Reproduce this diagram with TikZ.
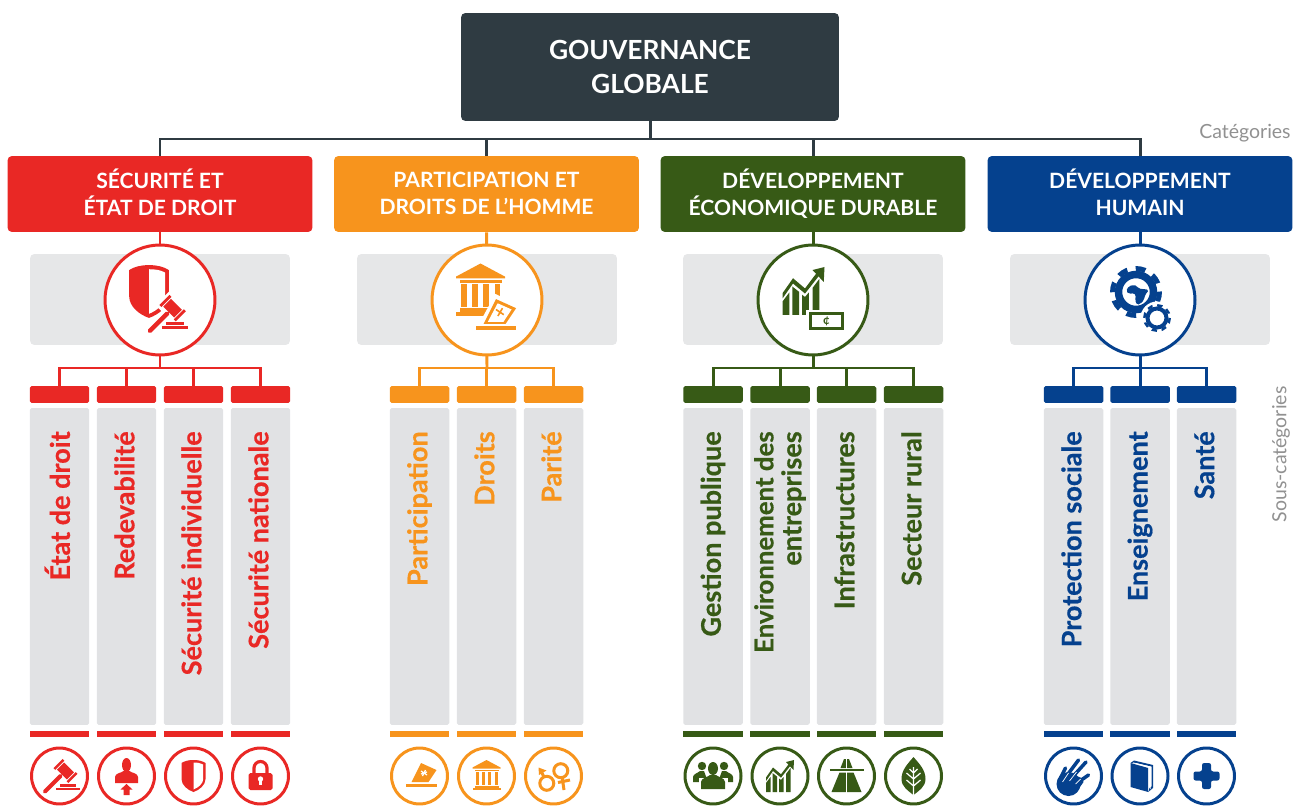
\documentclass[tikz,border=0pt]{standalone}
\usepackage{fontspec}
\setmainfont{Lato}
\newfontfamily\heavyfont[BoldFeatures={FakeBold=0.5}]{Lato}
\usetikzlibrary{positioning, calc}
\definecolor{titledark}{RGB}{47,59,66}
\definecolor{securityred}{RGB}{233,40,37}
\definecolor{rightsorange}{RGB}{247,148,29}
\definecolor{economygreen}{RGB}{55,90,22}
\definecolor{humanblue}{RGB}{5,65,142}
\definecolor{panelgrey}{RGB}{230,231,232}
\definecolor{columngrey}{RGB}{225,226,228}
\definecolor{notegrey}{RGB}{145,145,145}

\newcommand{\catstrut}{\rule[-2.4pt]{0pt}{12.6pt}}
\newcommand{\labstrut}{\rule[-2.5pt]{0pt}{13.3pt}}

\tikzset{
  titlebox/.style={fill=titledark, rounded corners=2.5pt, minimum width=7.56cm, minimum height=2.16cm, inner sep=0pt, align=center, text=white, font=\fontsize{15}{19.3}\selectfont\bfseries},
  catbox/.style={rounded corners=2.5pt, minimum width=6.1cm, minimum height=1.52cm, inner sep=0pt, align=center, text=white, font=\fontsize{12}{15.3}\selectfont\bfseries},
  panelbox/.style={fill=panelgrey, rounded corners=2.5pt, minimum width=5.2cm, minimum height=1.82cm, inner sep=0pt},
  hubring/.style={circle, fill=white, line width=1.7pt, minimum size=2.2cm, inner sep=0pt},
  headbox/.style={rounded corners=1pt, minimum width=1.19cm, minimum height=.34cm, inner sep=0pt},
  colbox/.style={fill=columngrey, rounded corners=1pt, minimum width=1.19cm, minimum height=6.34cm, inner sep=0pt},
  barbox/.style={minimum width=1.19cm, minimum height=.12cm, inner sep=0pt},
  iconring/.style={circle, fill=white, line width=1.7pt, minimum size=1.12cm, inner sep=0pt},
  sublabel/.style={rotate=90, anchor=east, inner sep=0pt, align=right, font=\fontsize{15.4}{15.9}\selectfont\heavyfont\bfseries},
  notelabel/.style={inner sep=0pt, text=notegrey, font=\fontsize{11.1}{13}\selectfont},
  treeline/.style={line width=1.7pt},
  % icons, drawn in the current colour around (0,0)
  pics/gavel/.style={code={
    \begin{scope}[shift={(6,-5)},rotate=-45]
      \fill[white] (-13,-9) rectangle (13,9);
      \fill[white] (-4,5) rectangle (4,32);
      \fill (-7,-5) rectangle (7,5);
      \fill (-10.5,-6.5) rectangle (-8,6.5);
      \fill (8,-6.5) rectangle (10.5,6.5);
      \fill[rounded corners=1pt] (-2,5) rectangle (2,31);
    \end{scope}
    \fill (-4,11.5) rectangle (20,14);
    \fill (0,8) rectangle (16,10.5);
  }},
  pics/shield/.style={code={
    \fill (0,-16) .. controls (-5,-16) and (-9,-15) .. (-12,-13) -- (-12,3) .. controls (-12,9) and (-6,14) .. (0,16) .. controls (6,14) and (12,9) .. (12,3) -- (12,-13) .. controls (9,-15) and (5,-16) .. (0,-16) -- cycle;
    \fill[white] (0,-13.5) .. controls (4,-13.5) and (7,-13) .. (9.7,-11.5) -- (9.7,3) .. controls (9.7,7.5) and (5,11.5) .. (0,13.5) -- cycle;
  }},
  pics/person/.style={code={
    \fill (0,-11) ellipse (4.5 and 7);
    \fill (-11.5,7) -- (-11.5,1) .. controls (-11.5,-3) and (-5,-3) .. (-3,-5) -- (3,-5) .. controls (5,-3) and (11.5,-3) .. (11.5,1) -- (11.5,7) -- cycle;
    \fill (0,8) -- (6,13.5) -- (3,13.5) -- (3,19) -- (-3,19) -- (-3,13.5) -- (-6,13.5) -- cycle;
  }},
  pics/padlock/.style={code={
    \draw[line width=1.8pt] (-6.5,-3) -- (-6.5,-8) arc (180:360:6.5) -- (6.5,-3);
    \fill[rounded corners=1pt] (-12,-3) rectangle (12,14);
    \fill[white] (0,3) circle (2.7);
    \fill[white] (-1.3,3) rectangle (1.3,9);
  }},
  pics/ballot/.style={code={
    \fill (1.5,-13) -- (17,-6) -- (9,6) -- (-8,6) -- cycle;
    \fill (-14,7.5) rectangle (17,11);
    \draw[white, line width=.7pt] (1.5,-5) -- (7.5,-1) (6,-6) -- (3,0) (1.5,-2) -- (7.5,-4);
  }},
  pics/ballotline/.style={code={
    \fill[white] (1,-17) -- (21,-7) -- (13,7) -- (-12,7) -- cycle;
    \fill (1.5,-13) -- (17,-6) -- (9,6) -- (-8,6) -- cycle;
    \fill[white] (2.8,-9.8) -- (13.5,-5) -- (7.2,4.6) -- (-4.8,4.6) -- cycle;
    \fill (-14,7.5) rectangle (17,11);
    \draw[line width=.9pt] (1.5,-5) -- (7.5,-1) (6.5,-6) -- (3,0);
  }},
  pics/temple/.style={code={
    \fill (0,-16) -- (14,-8.5) -- (14,-7.5) -- (-14,-7.5) -- (-14,-8.5) -- cycle;
    \fill (-12,-6.5) rectangle (12,-5);
    \fill (-11,-4) rectangle (-8,9);
    \fill (-4.7,-4) rectangle (-1.7,9);
    \fill (1.7,-4) rectangle (4.7,9);
    \fill (8,-4) rectangle (11,9);
    \fill (-12,9.5) rectangle (12,11.5);
    \fill (-14,12) rectangle (14,14);
  }},
  pics/gender/.style={code={
    \draw[line width=1.7pt] (-6.7,7.3) circle (7);
    \draw[line width=1.7pt] (-9.5,1) -- (-12.5,-5);
    \fill (-15,-8.5) -- (-7,-5.5) -- (-14.5,-1) -- cycle;
    \draw[line width=1.7pt] (7.3,-5.3) circle (7);
    \draw[line width=1.7pt] (8.7,1.5) -- (10.5,14) (4.5,6.5) -- (16.5,4);
  }},
  pics/crowd/.style={code={
    \fill (-11,-10) circle (4.2);
    \fill (11,-10) circle (4.2);
    \fill (-20,6) -- (-20,1) .. controls (-20,-2) and (-15,-3) .. (-13,-5) -- (-9,-5) -- (-5,6) -- cycle;
    \fill (20,6) -- (20,1) .. controls (20,-2) and (15,-3) .. (13,-5) -- (9,-5) -- (5,6) -- cycle;
    \fill[white] (0,-7) ellipse (7 and 9);
    \fill[white] (-14.5,14.5) rectangle (14.5,2);
    \fill (0,-7.5) ellipse (5 and 6.5);
    \fill (-12,13) -- (-12,6) .. controls (-12,2) and (-5,1) .. (-3,-1) -- (3,-1) .. controls (5,1) and (12,2) .. (12,6) -- (12,13) -- cycle;
  }},
  pics/growth/.style={code={
    \fill (-14,16) -- (-14,7) -- (-9.5,1) -- (-9.5,16) -- cycle;
    \fill (-7.5,16) -- (-7.5,-3) -- (-3,.5) -- (-3,16) -- cycle;
    \fill (-1,16) -- (-1,2.5) -- (1,4) -- (3.5,1) -- (3.5,16) -- cycle;
    \fill (6,16) -- (6,-2) -- (10.5,-8) -- (10.5,16) -- cycle;
    \fill (-14,1.5) -- (-7,-8.5) -- (1,-1.7) -- (9.5,-13) -- (11,-11) -- (1,1.7) -- (-7,-5) -- (-14,5) -- cycle;
    \fill (14,-16) -- (13.5,-6) -- (6,-14) -- cycle;
  }},
  pics/highway/.style={code={
    \fill (-17,-7) rectangle (17,-5);
    \fill (-2.5,-17) -- (-.6,-17) -- (-.6,-8) -- (-6,-8) -- cycle;
    \fill (2.5,-17) -- (.6,-17) -- (.6,-8) -- (6,-8) -- cycle;
    \fill (-7,-3.5) -- (-.7,-3.5) -- (-.7,16) -- (-15,16) -- cycle;
    \fill (7,-3.5) -- (.7,-3.5) -- (.7,16) -- (15,16) -- cycle;
  }},
  pics/leaf/.style={code={
    \fill (0,-19) .. controls (-6,-12) and (-12,-6) .. (-12,3) .. controls (-12,11) and (-5,15) .. (0,19) .. controls (5,15) and (12,11) .. (12,3) .. controls (12,-6) and (6,-12) .. (0,-19) -- cycle;
    \draw[white, line width=.7pt] (0,-9) -- (0,19) (0,3) -- (-7,-3) (0,3) -- (7,-3) (0,10) -- (-7,4) (0,10) -- (7,4) (0,-3) -- (-4,-7) (0,-3) -- (4,-7);
  }},
  pics/palm/.style={code={
    \fill (-5,8) circle (12);
    \fill (-15,5) -- (-10,-2) -- (-4,-3) -- (8,2) -- (10,6) -- (3,16) -- (-5,18) -- cycle;
    \draw[line width=2pt, line cap=round] (-13,2) -- (-8,-8) (-7,0) -- (5,-16) (-1,1) -- (12.5,-14) (5,6) -- (15,-1);
    \draw[white, line width=.4pt] (-11,6) -- (-5,-3) (-4,5) -- (3,-4) (2,8) -- (7,3);
  }},
  pics/book/.style={code={
    \fill (-9.5,-13) -- (8.2,-8) -- (8.2,16) -- (-9.5,11) -- cycle;
    \fill (-9.5,-13) -- (-6,-15.5) -- (13,-11) -- (13,12) -- (8.2,16) -- (9.5,12) -- (11.5,10.5) -- (11.5,-9.5) -- (-4,-13) -- cycle;
    \draw[white, line width=.3pt] (-7,-13.3) -- (10.5,-9) -- (10.5,13);
  }},
  pics/healthcross/.style={code={
    \fill[rounded corners=1.2pt] (-4.5,-13) -- (4.5,-13) -- (4.5,-4.5) -- (13,-4.5) -- (13,4.5) -- (4.5,4.5) -- (4.5,13) -- (-4.5,13) -- (-4.5,4.5) -- (-13,4.5) -- (-13,-4.5) -- (-4.5,-4.5) -- cycle;
  }},
  pics/bigcog/.style={code={
    \draw[line width=4.25pt] (0,0) circle (17.5);
    \draw[line width=2.8pt, dash pattern=on 5.6pt off 4.86pt] (0,0) circle (23.5);
    \fill[rounded corners=1pt] (-10,-1) -- (-7,-6) -- (-2,-7) -- (1,-6) -- (3,-3) -- (8,-3) -- (13,-2) -- (9,3) -- (8,8) -- (4,12) -- (1,13) -- (-1,8) -- (0,3) -- (-2,1) -- (-7,2) -- cycle;
  }},
  pics/smallcog/.style={code={
    \fill[white] (0,0) circle (16.5);
    \draw[line width=2.27pt] (0,0) circle (9.5);
    \draw[line width=1.4pt, dash pattern=on 3pt off 2.68pt] (0,0) circle (12.75);
  }},
}

% one sub-category: name, colour, x position, text, icon
\newcommand{\subcat}[5]{
  \node[headbox, fill=#2] (head#1) at (#3,394.5) {};
  \node[colbox] (col#1) at (#3,566.5) {};
  \node[sublabel, text=#2] (label#1) at (#3,431) {\labstrut #4};
  \node[barbox, fill=#2] (bar#1) at (#3,733.5) {};
  \node[iconring, draw=#2] (ring#1) at (#3,776) {};
  \pic[color=#2] at (ring#1) {#5};
}

\begin{document}
\begin{tikzpicture}[x=.02cm, y=-.02cm]
  \useasboundingbox (0,0) rectangle (1301,807);

  % Top box and the four categories
  \node[titlebox] (title) at (650,67) {GOUVERNANCE\\GLOBALE\rule[-.55pt]{0pt}{1pt}};
  \node[catbox, fill=securityred] (catA) at (160,194) {\catstrut SÉCURITÉ ET\\\catstrut ÉTAT DE DROIT};
  \node[catbox, fill=rightsorange] (catB) at (486.5,194) {\catstrut PARTICIPATION ET\\\catstrut DROITS DE L’HOMME};
  \node[catbox, fill=economygreen] (catC) at (813,194) {\catstrut DÉVELOPPEMENT\\\catstrut ÉCONOMIQUE DURABLE};
  \node[catbox, fill=humanblue] (catD) at (1140,194) {\catstrut DÉVELOPPEMENT\\\catstrut HUMAIN};
  \node[notelabel, anchor=east] (catnote) at (1291,133) {Catégories};
  \node[notelabel, rotate=90] (subnote) at (1281,454.5) {Sous-catégories};

  % Tree below the top box
  \coordinate (topbus) at (650,139);
  \draw[treeline, titledark] (title.south) -- (topbus);
  \draw[treeline, titledark] (catA.north) |- (topbus) -| (catD.north);
  \draw[treeline, titledark] (catB.north) -- (catB.north |- topbus);
  \draw[treeline, titledark] (catC.north) -- (catC.north |- topbus);

  % Grey panels
  \node[panelbox] (panelA) at (160,299.5) {};
  \node[panelbox] (panelB) at (487,299.5) {};
  \node[panelbox] (panelC) at (813,299.5) {};
  \node[panelbox] (panelD) at (1140,299.5) {};

  % Sub-categories
  \subcat{Aa}{securityred}{59.5}{État de droit}{gavel}
  \subcat{Ab}{securityred}{126.5}{Redevabilité}{person}
  \subcat{Ac}{securityred}{193.5}{Sécurité individuelle}{shield}
  \subcat{Ad}{securityred}{260.5}{Sécurité nationale}{padlock}
  \subcat{Ba}{rightsorange}{419.5}{Participation}{ballot}
  \subcat{Bb}{rightsorange}{486.5}{Droits}{temple}
  \subcat{Bc}{rightsorange}{553.5}{Parité}{gender}
  \subcat{Ca}{economygreen}{713}{Gestion publique}{crowd}
  \subcat{Cb}{economygreen}{780}{\fontsize{14.7}{15.9}\selectfont Environnement des\\\labstrut entreprises}{growth}
  \subcat{Cc}{economygreen}{846.5}{Infrastructures}{highway}
  \subcat{Cd}{economygreen}{913.5}{Secteur rural}{leaf}
  \subcat{Da}{humanblue}{1073.5}{Protection sociale}{palm}
  \subcat{Db}{humanblue}{1140}{Enseignement}{book}
  \subcat{Dc}{humanblue}{1206.5}{Santé}{healthcross}

  % Connectors of each branch
  \coordinate (busA) at (160,368);
  \coordinate (busB) at (487,368);
  \coordinate (busC) at (813,368);
  \coordinate (busD) at (1140,368);
  \draw[treeline, securityred] (catA.south) -- (busA);
  \draw[treeline, rightsorange] (catB.south) -- (busB);
  \draw[treeline, economygreen] (catC.south) -- (busC);
  \draw[treeline, humanblue] (catD.south) -- (busD);
  \draw[treeline, securityred] (headAa.north) |- (busA) -| (headAd.north);
  \draw[treeline, securityred] (headAb.north) -- (headAb.north |- busA);
  \draw[treeline, securityred] (headAc.north) -- (headAc.north |- busA);
  \draw[treeline, rightsorange] (headBa.north) |- (busB) -| (headBc.north);
  \draw[treeline, rightsorange] (headBb.north) -- (headBb.north |- busB);
  \draw[treeline, economygreen] (headCa.north) |- (busC) -| (headCd.north);
  \draw[treeline, economygreen] (headCb.north) -- (headCb.north |- busC);
  \draw[treeline, economygreen] (headCc.north) -- (headCc.north |- busC);
  \draw[treeline, humanblue] (headDa.north) |- (busD) -| (headDc.north);
  \draw[treeline, humanblue] (headDb.north) -- (headDb.north |- busD);

  % Large rings and their icons
  \node[hubring, draw=securityred] (hubA) at (160,300) {};
  \node[hubring, draw=rightsorange] (hubB) at (487,300) {};
  \node[hubring, draw=economygreen] (hubC) at (813,300) {};
  \node[hubring, draw=humanblue] (hubD) at (1140,300) {};

  \pic[color=securityred, scale=1.65] at ([shift={(-11,-8.5)}]hubA) {shield};
  \pic[color=securityred, scale=1.1] at ([shift={(6,13.7)}]hubA) {gavel};
  \pic[color=rightsorange, scale=1.75] at ([shift={(-6.5,-8.5)}]hubB) {temple};
  \pic[color=rightsorange, scale=1.3] at ([shift={(7,16)}]hubB) {ballotline};
  \pic[color=economygreen, scale=1.5] at ([shift={(-9.5,-9)}]hubC) {growth};
  \node[fill=white, minimum width=.82cm, minimum height=.46cm, inner sep=0pt] (billhalo) at ([shift={(13.5,21)}]hubC) {};
  \node[draw=economygreen, fill=white, line width=1.2pt, minimum width=.64cm, minimum height=.3cm, inner sep=0pt, text=economygreen, font=\fontsize{7}{8}\selectfont\bfseries] (bill) at (billhalo) {¢};
  \pic[color=humanblue] at ([shift={(-4,-8)}]hubD) {bigcog};
  \pic[color=humanblue] at ([shift={(17,18)}]hubD) {smallcog};
\end{tikzpicture}
\end{document}
